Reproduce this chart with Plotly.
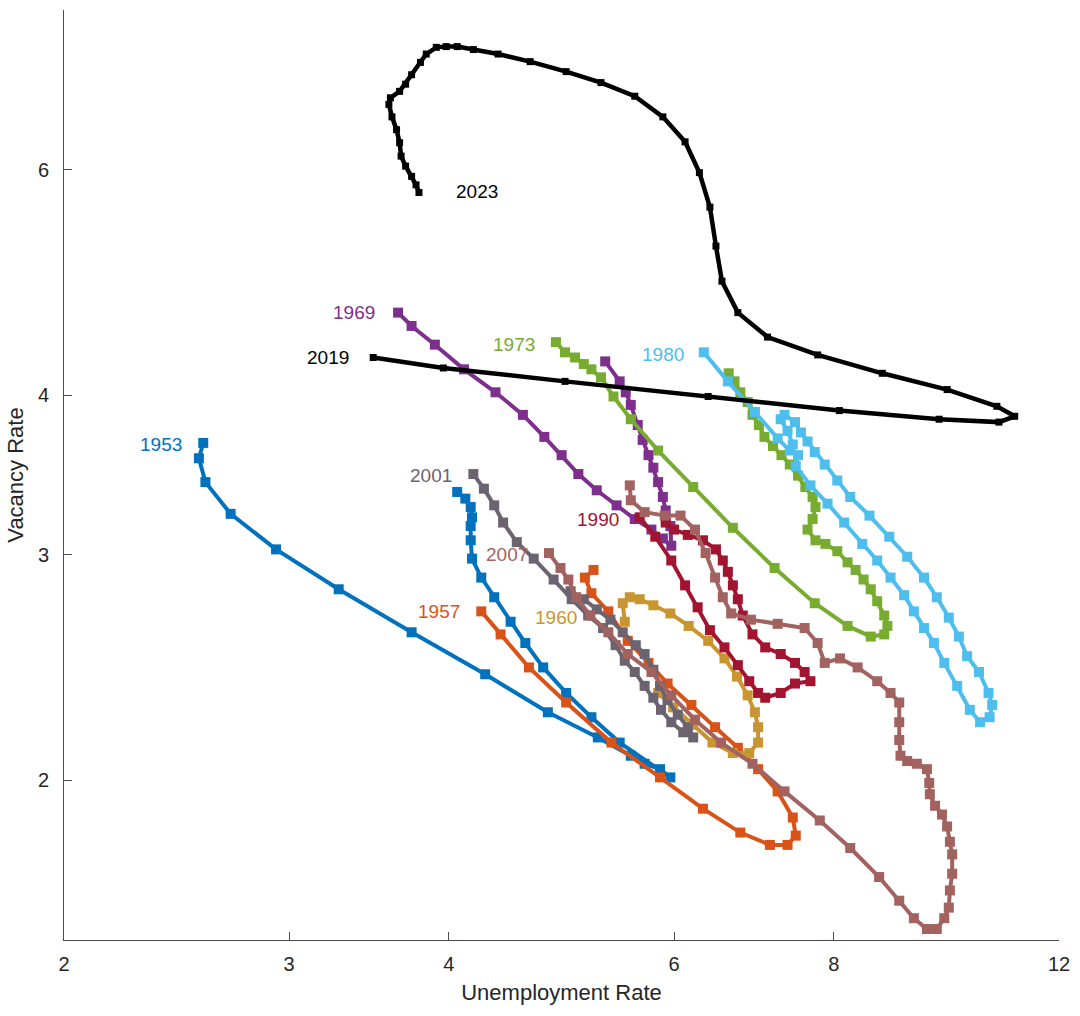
import numpy as np
import plotly.graph_objects as go

# ---------------- data (unemployment rate, vacancy rate) ----------------
u1953 = [2.57,2.55,2.58,2.70,2.93,3.28,3.74,4.27,4.78,5.23,5.55,5.69,5.85,5.96,5.44,5.17,4.94,4.74,4.59,4.47,4.34,4.24,4.17,4.16,4.16,4.17,4.16,4.12,4.06]
v1953 = [3.67,3.57,3.42,3.23,3.03,2.82,2.61,2.42,2.26,2.16,2.09,2.06,2.04,2.01,2.14,2.24,2.34,2.45,2.56,2.66,2.78,2.88,2.98,3.08,3.16,3.21,3.27,3.32,3.36]

u1957 = [4.24,4.39,4.62,4.94,5.36,5.85,6.32,6.76,7.13,7.36,7.47,7.43,7.23,6.98,6.73,6.46,6.19,5.93,5.73,5.52,5.33,5.17,5.11,5.19]
v1957 = [2.71,2.60,2.45,2.30,2.14,2.01,1.90,1.82,1.78,1.78,1.81,1.87,1.96,2.04,2.12,2.20,2.29,2.38,2.47,2.57,2.71,2.80,2.88,2.92]

u1960 = [5.49,5.47,5.54,5.64,5.78,5.96,6.16,6.38,6.57,6.72,6.85,6.94,6.98,6.98,6.87,6.67,6.43,6.21,5.99,5.83]
v1960 = [2.66,2.75,2.78,2.77,2.74,2.70,2.64,2.57,2.49,2.41,2.33,2.26,2.20,2.14,2.10,2.10,2.14,2.21,2.28,2.34]

u1969 = [3.65,3.74,3.90,4.11,4.35,4.57,4.75,4.90,5.05,5.22,5.41,5.59,5.76,5.88,5.97,5.96,5.91,5.88,5.83,5.78,5.73,5.67,5.62,5.55,5.50,5.44,5.30]
v1969 = [4.64,4.53,4.38,4.19,4.02,3.86,3.71,3.59,3.47,3.37,3.28,3.20,3.14,3.09,3.05,3.16,3.25,3.33,3.42,3.51,3.59,3.69,3.79,3.93,4.02,4.10,4.25]

u1973 = [4.85,4.93,5.02,5.10,5.17,5.26,5.38,5.55,5.83,6.21,6.67,7.19,7.73,8.20,8.55,8.76,8.81,8.76,8.65,8.55,
         8.44,8.32,8.20,8.05,7.88,7.74,7.63,7.70,7.74,7.70,7.60,7.50,7.39,7.28,7.17,7.06,6.99,6.91,6.85,6.76,6.69,6.62]
v1973 = [4.40,4.32,4.28,4.23,4.19,4.13,3.99,3.83,3.62,3.39,3.15,2.93,2.75,2.64,2.59,2.60,2.64,2.69,2.76,2.82,
         2.87,2.92,2.96,3.02,3.06,3.08,3.14,3.20,3.27,3.33,3.39,3.46,3.53,3.59,3.65,3.71,3.79,3.86,3.95,4.02,4.10,4.16]

u1980 = [6.33,6.61,6.94,7.23,7.39,7.50,7.47,7.67,7.91,8.15,8.42,8.65,8.86,9.08,9.24,9.41,9.58,9.76,9.99,10.22,
         10.41,10.59,10.64,10.57,10.39,10.17,10.02,9.84,9.63,9.41,9.13,8.84,8.53,8.24,8.05,7.87,7.73,7.63,7.54,7.46,
         7.32,7.27,7.36,7.43]
v1980 = [4.32,4.10,3.88,3.70,3.62,3.59,3.52,3.40,3.29,3.18,3.06,2.97,2.88,2.79,2.71,2.63,2.56,2.47,2.37,2.27,
         2.22,2.24,2.29,2.34,2.43,2.50,2.59,2.68,2.78,2.88,2.99,3.10,3.22,3.33,3.43,3.53,3.61,3.68,3.74,3.81,
         3.86,3.83,3.75,3.66]

u1990 = [5.64,5.80,5.97,6.12,6.26,6.40,6.57,6.73,6.87,6.98,7.07,7.27,7.46,7.67,7.59,7.46,7.27,7.07,6.91,6.79,6.73,6.67,6.61,6.55,6.47,6.32,6.15,6.00,5.91]
v1990 = [3.21,3.10,2.97,2.84,2.73,2.62,2.54,2.46,2.39,2.34,2.32,2.34,2.38,2.39,2.43,2.47,2.51,2.54,2.60,2.69,2.77,2.84,2.91,2.97,3.03,3.08,3.11,3.14,3.18]

u2001 = [4.18,4.26,4.34,4.41,4.52,4.66,4.83,4.99,5.14,5.28,5.40,5.49,5.59,5.69,5.78,5.86,5.97,6.10,6.21,6.15,6.04,5.93,5.85,5.78,5.69,5.60,5.47,5.35,5.22,5.10,4.98]
v2001 = [3.47,3.38,3.28,3.18,3.07,2.98,2.87,2.77,2.69,2.63,2.55,2.48,2.43,2.37,2.32,2.27,2.22,2.18,2.16,2.20,2.25,2.31,2.37,2.44,2.51,2.55,2.61,2.67,2.72,2.77,2.81]

u2007 = [4.79,4.89,4.96,5.03,5.16,5.33,5.52,5.76,5.97,6.23,6.53,6.91,7.32,7.80,8.24,8.68,9.00,9.24,9.46,9.63,
         9.76,9.84,9.86,9.90,9.90,9.86,9.81,9.72,9.60,9.51,9.50,9.46,9.29,9.13,9.02,9.00,9.00,9.00,8.86,8.65,
         8.35,8.09,7.87,7.77,7.59,7.23,6.89,6.65,6.55,6.46,6.35,6.23,6.07,5.90,5.69,5.55,5.54]
v2007 = [3.01,2.93,2.87,2.78,2.69,2.61,2.51,2.43,2.33,2.23,2.14,2.06,1.96,1.86,1.77,1.68,1.61,1.56,1.53,1.53,
         1.56,1.59,1.64,1.69,1.75,1.79,1.84,1.88,1.91,1.95,1.99,2.04,2.06,2.07,2.09,2.15,2.22,2.30,2.34,2.39,
         2.45,2.49,2.47,2.56,2.63,2.65,2.67,2.70,2.78,2.88,3.01,3.14,3.22,3.22,3.24,3.31,3.40]

u2019 = [3.49,3.96,4.93,6.38,8.08,9.67,10.77,11.08,10.73,9.81,8.73,7.77,7.10,6.73,6.54,6.47,6.40,6.28,6.12,5.88,
         5.59,5.26,4.94,4.63,4.37,4.18,4.06,3.98,3.91,3.84,3.80,3.74,3.70,3.66,3.60,3.59,3.61,3.64,3.66,3.67,
         3.70,3.74,3.77,3.79]
v2019 = [4.28,4.20,4.10,3.99,3.89,3.83,3.81,3.85,3.92,4.04,4.16,4.30,4.44,4.64,4.91,5.23,5.61,5.97,6.31,6.60,
         6.85,7.02,7.16,7.29,7.39,7.45,7.49,7.49,7.48,7.39,7.28,7.12,7.00,6.91,6.83,6.75,6.60,6.45,6.30,6.15,
         6.04,5.93,5.84,5.76]

x_ticks = [2, 3, 4, 6, 8, 12]
y_ticks = [2, 3, 4, 6]

series = [
    ("1953", u1953, v1953, "#0072BD"),
    ("1957", u1957, v1957, "#D95319"),
    ("1960", u1960, v1960, "#C99530"),
    ("1969", u1969, v1969, "#7E2F8E"),
    ("1973", u1973, v1973, "#77AC30"),
    ("1980", u1980, v1980, "#4DBEEE"),
    ("1990", u1990, v1990, "#A2142F"),
    ("2001", u2001, v2001, "#6B6470"),
    ("2007", u2007, v2007, "#A2625F"),
]

# label anchor points (data units) for the episode names
label_pos = {
    "1953": (2.38, 3.66), "1957": (3.93, 2.71), "1960": (4.85, 2.68),
    "1969": (3.37, 4.64), "1973": (4.50, 4.38), "1980": (5.88, 4.30),
    "1990": (5.23, 3.20), "2001": (3.87, 3.46), "2007": (4.44, 3.00),
    "2019": (3.22, 4.28), "2023": (4.21, 5.77),
}
label_color = {name: col for name, _, _, col in series}
label_color["2019"] = "#000000"
label_color["2023"] = "#000000"

FONT = "Liberation Sans, Arial, sans-serif"

fig = go.Figure()
for name, u, v, col in series:
    fig.add_trace(go.Scatter(
        x=u, y=v, mode="lines+markers", name=name,
        line=dict(color=col, width=4),
        marker=dict(symbol="square", size=10, color=col),
        showlegend=False,
    ))

fig.add_trace(go.Scatter(
    x=u2019, y=v2019, mode="lines+markers", name="2019",
    line=dict(color="#000000", width=4.5),
    marker=dict(symbol="square", size=7, color="#000000"),
    showlegend=False,
))

for name, (lx, ly) in label_pos.items():
    fig.add_annotation(
        x=np.log10(lx), y=np.log10(ly), xref="x", yref="y",
        text=name, showarrow=False,
        font=dict(family=FONT, size=19, color=label_color[name]),
        xanchor="center", yanchor="middle",
    )

axis_common = dict(
    showgrid=False, zeroline=False, showline=True, linecolor="#4d4d4d", linewidth=1,
    ticks="inside", ticklen=8, tickcolor="#4d4d4d", tickwidth=1,
    tickfont=dict(family=FONT, size=20, color="#262626"),
    mirror=False,
)

fig.update_layout(
    width=1080, height=1016,
    margin=dict(l=64, r=18, t=10, b=76),
    paper_bgcolor="white", plot_bgcolor="white",
    xaxis=dict(type="log", range=[np.log10(2), np.log10(12)],
               tickvals=x_ticks, ticktext=[str(t) for t in x_ticks],
               ticklabelstandoff=6,
               title=dict(text="Unemployment Rate", standoff=10,
                          font=dict(family=FONT, size=22, color="#262626")),
               **axis_common),
    yaxis=dict(type="log", range=[np.log10(1.5), np.log10(8)],
               tickvals=y_ticks, ticktext=[str(t) for t in y_ticks],
               ticklabelstandoff=10,
               title=dict(text="Vacancy Rate", standoff=8,
                          font=dict(family=FONT, size=22, color="#262626")),
               **axis_common),
)

fig.write_html("out.html")
